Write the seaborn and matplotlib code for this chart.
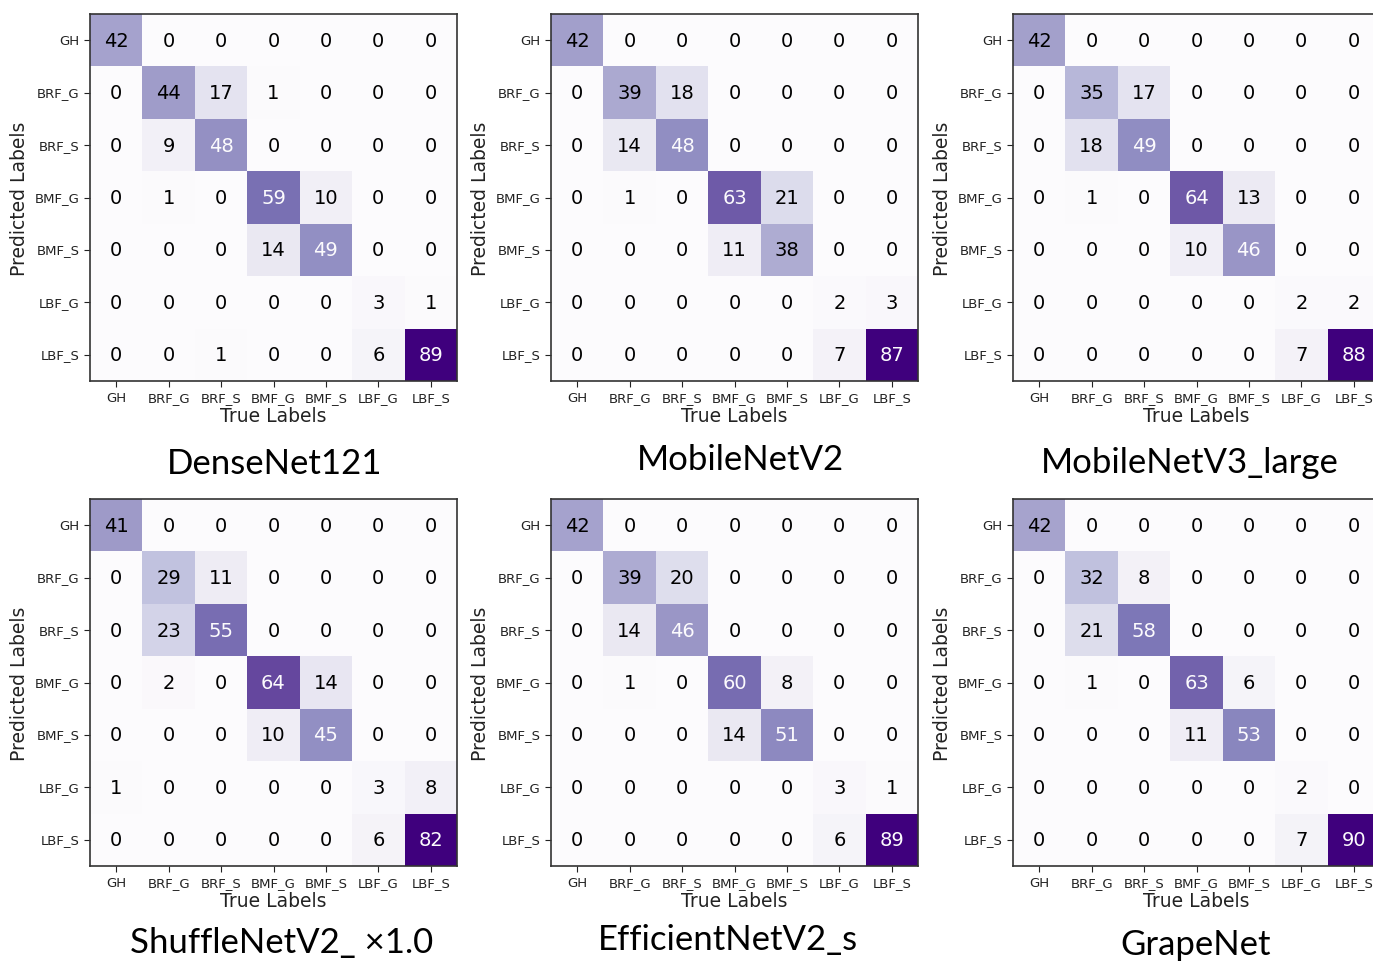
import numpy as np
import pandas as pd
import matplotlib
matplotlib.use('Agg')
import matplotlib.pyplot as plt
import seaborn as sns

# class names (rows = predicted, columns = true)
classes = ['GH', 'BRF_G', 'BRF_S', 'BMF_G', 'BMF_S', 'LBF_G', 'LBF_S']

densenet121 = [
    [42, 0, 0, 0, 0, 0, 0],
    [0, 44, 17, 1, 0, 0, 0],
    [0, 9, 48, 0, 0, 0, 0],
    [0, 1, 0, 59, 10, 0, 0],
    [0, 0, 0, 14, 49, 0, 0],
    [0, 0, 0, 0, 0, 3, 1],
    [0, 0, 1, 0, 0, 6, 89],
]

mobilenet_v2 = [
    [42, 0, 0, 0, 0, 0, 0],
    [0, 39, 18, 0, 0, 0, 0],
    [0, 14, 48, 0, 0, 0, 0],
    [0, 1, 0, 63, 21, 0, 0],
    [0, 0, 0, 11, 38, 0, 0],
    [0, 0, 0, 0, 0, 2, 3],
    [0, 0, 0, 0, 0, 7, 87],
]

mobilenet_v3_large = [
    [42, 0, 0, 0, 0, 0, 0],
    [0, 35, 17, 0, 0, 0, 0],
    [0, 18, 49, 0, 0, 0, 0],
    [0, 1, 0, 64, 13, 0, 0],
    [0, 0, 0, 10, 46, 0, 0],
    [0, 0, 0, 0, 0, 2, 2],
    [0, 0, 0, 0, 0, 7, 88],
]

shufflenet_v2 = [
    [41, 0, 0, 0, 0, 0, 0],
    [0, 29, 11, 0, 0, 0, 0],
    [0, 23, 55, 0, 0, 0, 0],
    [0, 2, 0, 64, 14, 0, 0],
    [0, 0, 0, 10, 45, 0, 0],
    [1, 0, 0, 0, 0, 3, 8],
    [0, 0, 0, 0, 0, 6, 82],
]

efficientnet_v2_s = [
    [42, 0, 0, 0, 0, 0, 0],
    [0, 39, 20, 0, 0, 0, 0],
    [0, 14, 46, 0, 0, 0, 0],
    [0, 1, 0, 60, 8, 0, 0],
    [0, 0, 0, 14, 51, 0, 0],
    [0, 0, 0, 0, 0, 3, 1],
    [0, 0, 0, 0, 0, 6, 89],
]

grapenet = [
    [42, 0, 0, 0, 0, 0, 0],
    [0, 32, 8, 0, 0, 0, 0],
    [0, 21, 58, 0, 0, 0, 0],
    [0, 1, 0, 63, 6, 0, 0],
    [0, 0, 0, 11, 53, 0, 0],
    [0, 0, 0, 0, 0, 2, 0],
    [0, 0, 0, 0, 0, 7, 90],
]

titles = ['DenseNet121', 'MobileNetV2', 'MobileNetV3_large',
          'ShuffleNetV2_ \u00d71.0', 'EfficientNetV2_s', 'GrapeNet']
matrices = [densenet121, mobilenet_v2, mobilenet_v3_large,
            shufflenet_v2, efficientnet_v2_s, grapenet]

W, H = 1373, 962
fig = plt.figure(figsize=(W / 100, H / 100), dpi=100)

# layout in pixels: left edge of each column, top edge of each row
col_x = [90, 551, 1013]
row_y = [15, 500]
size = 367
# title anchor (center x, baseline y) in pixels
title_pos = [(275, 474), (740, 470), (1190, 473),
             (282, 953), (728, 950), (1196, 955)]

for k, (mat, title) in enumerate(zip(matrices, titles)):
    r, c = divmod(k, 3)
    x0, y0 = col_x[c], row_y[r]
    ax = fig.add_axes([x0 / W, 1 - (y0 + size) / H, size / W, size / H])
    df = pd.DataFrame(mat, index=classes, columns=classes)
    sns.heatmap(df, annot=True, fmt='d', cmap='Purples', cbar=False, ax=ax,
                vmin=0, annot_kws={'size': 14})
    thresh = df.values.max() / 2
    for t, v in zip(ax.texts, df.values.flatten()):
        t.set_color('#fcfbfd' if v > thresh else 'black')
    for s in ax.spines.values():
        s.set_visible(True)
        s.set_color('#333333')
        s.set_linewidth(1.2)
    ax.tick_params(axis='both', labelsize=9.5, colors='#222222', length=4)
    ax.set_yticklabels(classes, rotation=0)
    ax.set_xticklabels(classes, rotation=0)
    ax.set_xlabel('True Labels', fontsize=13.5, color='#222222', labelpad=1)
    ax.set_ylabel('Predicted Labels', fontsize=13.5, color='#222222')
    tx, ty = title_pos[k]
    fig.text(tx / W, 1 - ty / H, title, ha='center', va='baseline',
             fontsize=25, family=['Lato', 'DejaVu Sans'], color='black')

fig.savefig('out.png', dpi=100)
